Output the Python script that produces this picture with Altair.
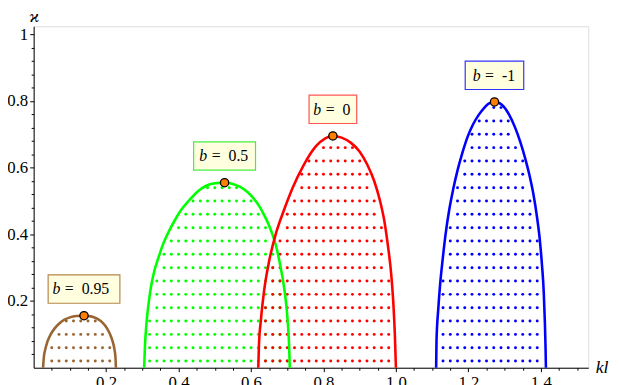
import altair as alt
import numpy as np
import pandas as pd

# ---------------- data ----------------
b_values = ["0.95", "0.5", "0", "-1"]

brown_kl    = [0.026, 0.028, 0.032, 0.038, 0.047, 0.058, 0.070, 0.085, 0.100, 0.118, 0.138, 0.158, 0.175, 0.190, 0.202, 0.211, 0.218, 0.223, 0.226, 0.227]
brown_kappa = [0.000, 0.030, 0.055, 0.078, 0.100, 0.118, 0.132, 0.144, 0.151, 0.155, 0.156, 0.154, 0.147, 0.135, 0.119, 0.100, 0.079, 0.055, 0.028, 0.000]

green_kl    = [0.305, 0.307, 0.311, 0.317, 0.323, 0.333, 0.343, 0.357, 0.371, 0.390, 0.407, 0.430, 0.452, 0.475, 0.500, 0.527,
               0.550, 0.570, 0.590, 0.607, 0.623, 0.638, 0.650, 0.661, 0.671, 0.679, 0.687, 0.693, 0.698, 0.702, 0.705, 0.707]
green_kappa = [0.000, 0.060, 0.128, 0.190, 0.237, 0.290, 0.325, 0.370, 0.404, 0.443, 0.473, 0.503, 0.528, 0.545, 0.553, 0.555,
               0.551, 0.542, 0.527, 0.508, 0.484, 0.454, 0.426, 0.394, 0.357, 0.316, 0.270, 0.227, 0.180, 0.128, 0.070, 0.000]

red_kl    = [0.620, 0.622, 0.627, 0.636, 0.650, 0.668, 0.690, 0.715, 0.745, 0.780, 0.805, 0.826,
             0.850, 0.875, 0.900, 0.920, 0.940, 0.955, 0.968, 0.978, 0.987, 0.993, 0.997, 1.000]
red_kappa = [0.000, 0.070, 0.140, 0.230, 0.320, 0.400, 0.470, 0.540, 0.607, 0.665, 0.688, 0.695,
             0.690, 0.675, 0.648, 0.611, 0.560, 0.505, 0.440, 0.365, 0.280, 0.190, 0.100, 0.000]

blue_kl    = [1.111, 1.112, 1.117, 1.122, 1.129, 1.137, 1.147, 1.158, 1.170, 1.183, 1.197, 1.212, 1.229, 1.245, 1.256, 1.272,
              1.285, 1.297, 1.312, 1.329, 1.343, 1.356, 1.368, 1.379, 1.389, 1.397, 1.403, 1.408, 1.411, 1.413, 1.414]
blue_kappa = [0.000, 0.080, 0.178, 0.250, 0.325, 0.400, 0.473, 0.535, 0.592, 0.643, 0.690, 0.728, 0.759, 0.781, 0.792, 0.797,
              0.794, 0.784, 0.760, 0.720, 0.678, 0.631, 0.580, 0.523, 0.455, 0.385, 0.310, 0.227, 0.140, 0.060, 0.000]

peak_kl    = [0.139, 0.527, 0.826, 1.272]
peak_kappa = [0.156, 0.555, 0.695, 0.797]

# ---------------- styles ----------------
colors = ["#996633", "#00FF00", "#FF0000", "#0000FF"]
border_colors = ["#B8864B", "#44EE44", "#FF5555", "#3333FF"]
box_w = [72.7, 62.7, 48.3, 59.3]
text_start = [-32, -25.6, -19.8, -22.0]
BOX_H = 28.7
BOX_DY = -27
SERIF = "Liberation Serif"
W, H = 562, 346

curves = [(brown_kl, brown_kappa), (green_kl, green_kappa), (red_kl, red_kappa), (blue_kl, blue_kappa)]
dot_offset = [0.01, 0.0, 0.0, 0.01]

rows = []
for b, (kl, kp) in zip(b_values, curves):
    for i, (a, c) in enumerate(zip(kl, kp)):
        rows.append({"b": b, "kl": a, "kappa": c, "i": i})
curve_df = pd.DataFrame(rows)

# dotted fill of each region (grid of dots inside each arch)
dots = []
for b, (kl, kp), off in zip(b_values, curves, dot_offset):
    kl = np.array(kl); kp = np.array(kp)
    ip = int(np.argmax(kp))
    lk, lp = kl[: ip + 1], kp[: ip + 1]
    rk, rp = kl[ip:][::-1], kp[ip:][::-1]
    for level in np.arange(0.02, kp.max(), 0.04):
        left = np.interp(level, lp, lk)
        right = np.interp(level, rp, rk)
        n0 = int(np.ceil((left - off) / 0.02))
        n1 = int(np.floor((right - off) / 0.02))
        for n in range(n0, n1 + 1):
            x = off + 0.02 * n
            if left + 0.006 < x < right - 0.006:
                dots.append({"b": b, "kl": x, "kappa": level})
dots_df = pd.DataFrame(dots)

peak_df = pd.DataFrame({"b": b_values, "kl": peak_kl, "kappa": peak_kappa})

xs = alt.Scale(domain=[0, 1.531], nice=False, zero=False)
ys = alt.Scale(domain=[0, 1.024], nice=False, zero=False)
cs = alt.Scale(domain=b_values, range=colors)

is_major = "abs(datum.value*5 - round(datum.value*5)) < 0.001"
x_vals = [round(0.05 * k, 2) for k in range(1, 31)]
y_vals = [round(0.04 * k, 2) for k in range(1, 26)]

x_axis = alt.Axis(
    values=x_vals,
    labelExpr=f"{is_major} ? format(datum.value, '.1f') : ''",
    tickSize={"condition": {"test": is_major, "value": 4}, "value": 2.5},
    grid=False, domainColor="black", tickColor="black", domainWidth=1, tickWidth=1,
    labelFont=SERIF, labelFontSize=17, labelColor="black", labelPadding=3,
    labelFlush=False, labelOverlap=False,
    title="kl", titleFont=SERIF, titleFontStyle="italic", titleFontWeight="normal",
    titleFontSize=18, titleColor="black", titleX=W + 7, titleY=0,
    titleAlign="left", titleBaseline="middle", titleAngle=0,
)
y_axis = alt.Axis(
    values=y_vals,
    labelExpr=f"{is_major} ? (datum.value > 0.99 ? '1' : format(datum.value, '.1f')) : ''",
    tickSize={"condition": {"test": is_major, "value": 4}, "value": 2.5},
    grid=False, domainColor="black", tickColor="black", domainWidth=1, tickWidth=1,
    labelFont=SERIF, labelFontSize=17, labelColor="black", labelPadding=2,
    labelFlush=False, labelOverlap=False,
    title="ϰ", titleFont=SERIF, titleFontStyle="italic", titleFontWeight="normal",
    titleFontSize=18, titleColor="black", titleX=0, titleY=-10,
    titleAlign="center", titleBaseline="middle", titleAngle=0,
)

X = alt.X("kl:Q", scale=xs, axis=x_axis)
Y = alt.Y("kappa:Q", scale=ys, axis=y_axis)

dots_layer = alt.Chart(dots_df).mark_circle(size=9, opacity=1).encode(
    x=X, y=Y, color=alt.Color("b:N", scale=cs, legend=None),
)

line_layer = alt.Chart(curve_df).mark_line(strokeWidth=2.6, interpolate="monotone").encode(
    x=X, y=Y,
    color=alt.Color("b:N", scale=cs, legend=None),
    detail="b:N",
    order="i:Q",
)

peak_layer = alt.Chart(peak_df).mark_point(
    shape="circle", filled=True, fill="#FF8000", stroke="black", strokeWidth=1.3, size=70, opacity=1
).encode(x=X, y=Y)

layers = [dots_layer, line_layer, peak_layer]
for j, b in enumerate(b_values):
    base = alt.Chart(peak_df).transform_filter(alt.datum.b == b)
    w = box_w[j]
    box = base.mark_rect(
        xOffset=-w / 2, x2Offset=w / 2,
        yOffset=BOX_DY - BOX_H / 2, y2Offset=BOX_DY + BOX_H / 2,
        fill="#FFFFE0", stroke=border_colors[j], strokeWidth=1.2,
    ).encode(x=X, x2="kl:Q", y=Y, y2="kappa:Q")
    st = text_start[j]
    tb = base.mark_text(
        align="left", baseline="alphabetic", dx=st, dy=BOX_DY + 5.5,
        font=SERIF, fontSize=16, fontStyle="italic", color="black",
    ).encode(x=X, y=Y, text=alt.value("b"))
    teq = base.mark_text(
        align="left", baseline="alphabetic", dx=st + 12.5, dy=BOX_DY + 5.5,
        font=SERIF, fontSize=16, color="black",
    ).encode(x=X, y=Y, text=alt.value("="))
    tv = base.mark_text(
        align="left", baseline="alphabetic", dx=st + 29.6, dy=BOX_DY + 5.5,
        font=SERIF, fontSize=16, color="black",
    ).encode(x=X, y=Y, text="b:N")
    layers += [box, tb, teq, tv]

chart = alt.layer(*layers).properties(
    width=W, height=H,
    autosize=alt.AutoSizeParams(type="none"),
    padding={"left": 26, "top": 16, "right": 23, "bottom": 15},
).configure_view(stroke=None).configure_axis(labelOverlap=False).configure(background="white")

chart.save("out.html", embed_options={"renderer": "svg", "actions": False})
